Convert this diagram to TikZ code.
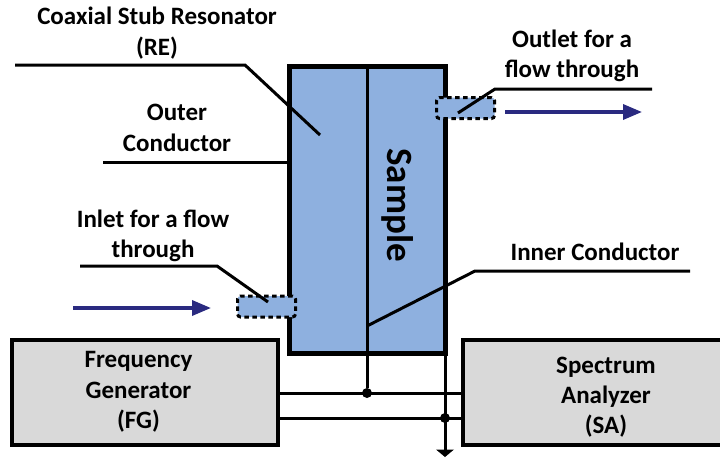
\documentclass[tikz,border=0pt]{standalone}
\usepackage{fontspec}
\setmainfont{Carlito}
\usetikzlibrary{arrows.meta,positioning}
\definecolor{fillblue}{HTML}{8EB0DF}
\definecolor{fillgray}{HTML}{D9D9D9}
\definecolor{arrowblue}{HTML}{2A2A80}
\tikzset{
  x=1pt,y=-1pt,
  every node/.style={font=\bfseries\fontsize{25}{30.3}\selectfont,align=center,inner sep=0pt,outer sep=0pt,text=black},
  blackline/.style={draw=black,line width=3pt},
  graybox/.style={draw=black,line width=3.4pt,fill=fillgray,minimum height=105pt,anchor=north west},
  portbox/.style={draw=black,line width=3pt,dash pattern=on 4.5pt off 3.5pt,fill=fillblue,rounded corners=3pt,minimum width=58pt,minimum height=21pt},
  resbox/.style={draw=black,line width=5pt,fill=fillblue,minimum width=156pt,minimum height=287pt,anchor=north west},
  flowarrow/.style={draw=arrowblue,line width=3.4pt,-{Triangle[length=19pt,width=15pt]}},
  dot/.style={circle,fill=black,minimum size=10pt},
}
\begin{document}
\begin{tikzpicture}
\useasboundingbox (0,0) rectangle (720,459);
\clip (0,0) rectangle (720,459);
\node[resbox] (res) at (289,66) {};
\coordinate (innertop) at (367,66);
\coordinate (innerbot) at (367,353);
\draw[black,line width=3pt] (innertop) -- (innerbot);
\node[portbox] (inlet) at (266.5,306.5) {};
\node[portbox] (outlet) at (465.5,108) {};
\node[graybox,minimum width=266pt] (fg) at (12,340) {};
\node[graybox,minimum width=270pt] (sa) at (463,340) {};
\node (fgtext) at (138.5,392) {Frequency\\Generator\\(FG)};
\node (satext) at (606,397) {Spectrum\\Analyzer\\(SA)};
\node[dot] (j1) at (367,393) {};
\node[dot] (j2) at (445,418) {};
\coordinate (gnd) at (445,450);
\draw[blackline] (innerbot) -- (j1);
\draw[blackline] (445,353) -- (gnd);
\draw[blackline] (fg.east |- j1) -- (sa.west |- j1);
\draw[blackline] (fg.east |- j2) -- (sa.west |- j2);
\fill[black] (436,449.5) -- (454,449.5) -- (445,457) -- cycle;
\coordinate (a1) at (15,65); \coordinate (a2) at (245,65); \coordinate (a3) at (320,135);
\draw[blackline] (a1) -- (a2) -- (a3);
\coordinate (b1) at (103,162);
\draw[blackline] (b1) -- (b1 -| res.west);
\coordinate (c1) at (80,266); \coordinate (c2) at (217,266); \coordinate (c3) at (268,302);
\draw[blackline] (c1) -- (c2) -- (c3);
\coordinate (d1) at (652,89); \coordinate (d2) at (495,89); \coordinate (d3) at (458,113);
\draw[blackline] (d1) -- (d2) -- (d3);
\coordinate (e1) at (690,271); \coordinate (e2) at (475,271); \coordinate (e3) at (367,326);
\draw[blackline] (e1) -- (e2) -- (e3);
\coordinate (f1) at (73,308); \coordinate (f2) at (211,308);
\draw[flowarrow] (f1) -- (f2);
\coordinate (g1) at (505,112); \coordinate (g2) at (642,112);
\draw[flowarrow] (g1) -- (g2);
\node (t1) at (157,33) {Coaxial Stub Resonator\\(RE)};
\node (t2) at (177,128) {Outer\\Conductor};
\node (t3) at (153,235.5) {Inlet for a flow\\through};
\node (t4) at (572,56) {Outlet for a\\flow through};
\node (t5) at (595,252) {Inner Conductor};
\node[rotate=-90,font=\bfseries\fontsize{37}{44}\selectfont] (t6) at (398,205) {Sample};
\end{tikzpicture}
\end{document}
